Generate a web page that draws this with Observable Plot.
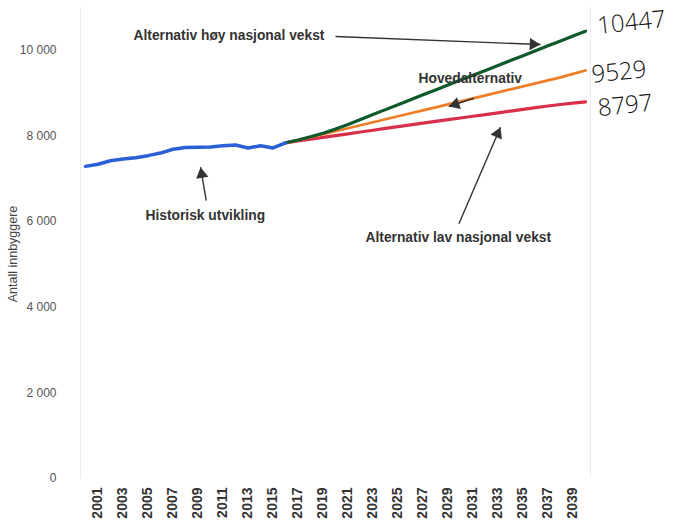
<!DOCTYPE html>
<html><head><meta charset="utf-8">
<script src="https://cdn.jsdelivr.net/npm/d3@7"></script>
<script src="https://cdn.jsdelivr.net/npm/@observablehq/plot@0.6"></script>
<style>body{margin:0;background:#fff}</style>
</head><body><div id="chart"></div>
<script>
// Historical population
const histYears = [2000,2001,2002,2003,2004,2005,2006,2007,2008,2009,2010,2011,2012,2013,2014,2015,2016];
const historisk = [7290,7340,7420,7460,7490,7540,7600,7690,7730,7735,7740,7770,7790,7720,7770,7720,7840];

// Projections
const projYears = [2016,2017,2018,2019,2020,2021,2022,2023,2024,2025,2026,2027,2028,2029,2030,2031,2032,2033,2034,2035,2036,2037,2038,2039,2040];
const hoy   = [7840,7905,7980,8065,8160,8270,8385,8500,8615,8730,8845,8960,9075,9190,9305,9420,9530,9645,9760,9875,9990,10105,10220,10335,10447];
const hoved = [7840,7905,7970,8040,8110,8180,8250,8320,8390,8460,8530,8600,8670,8740,8810,8880,8950,9020,9090,9160,9230,9300,9370,9450,9529];
const lav   = [7840,7882,7924,7966,8008,8050,8092,8134,8176,8218,8260,8300,8340,8380,8420,8460,8500,8540,8580,8620,8660,8700,8735,8768,8797];

const xTicks = [2001,2003,2005,2007,2009,2011,2013,2015,2017,2019,2021,2023,2025,2027,2029,2031,2033,2035,2037,2039];
const yTicks = [0,2000,4000,6000,8000,10000];
const yLabel = "Antall innbyggere";

// Annotations (data space)
const labels = [
  {year: 2003.84, value: 10346, text: "Alternativ høy nasjonal vekst"},
  {year: 2026.64, value: 9341,  text: "Hovedalternativ"},
  {year: 2004.8,  value: 6142,  text: "Historisk utvikling"},
  {year: 2022.4,  value: 5628,  text: "Alternativ lav nasjonal vekst"}
];
const arrows = [
  {x1: 2020.0, y1: 10322, x2: 2036.4, y2: 10135},
  {x1: 2031.06, y1: 8881, x2: 2029.06, y2: 8688},
  {x1: 2009.66, y1: 6492, x2: 2009.2, y2: 7270},
  {x1: 2029.87, y1: 5948, x2: 2033.2, y2: 8204}
];
const handwritten = [
  {year: 2040.95, value: 10560, text: "10447"},
  {year: 2040.5,  value: 9420,  text: "9529"},
  {year: 2041.0,  value: 8640,  text: "8797"}
];

const xDomain = [1999.6, 2040.4];
const yDomain = [0, 11000];
const hist = histYears.map((d,i) => ({year: d, value: historisk[i]}));
const mk = arr => projYears.map((d,i) => ({year: d, value: arr[i]}));
const fmt = d => d3.format(",")(d).replace(/,/g, " ");

const base = {
  width: 679, height: 531,
  marginLeft: 80, marginRight: 89, marginTop: 7, marginBottom: 53,
  style: {fontFamily: "Liberation Sans, Arial, sans-serif", background: "#fff", overflow: "visible"},
  x: {domain: xDomain},
  y: {domain: yDomain}
};

// first pass: obtain the scales to orient the filled arrowheads
const probe = Plot.plot({...base, marks: [Plot.ruleX(xDomain)]});
const sx = probe.scale("x"), sy = probe.scale("y");
const R = 4.6;
const tipDist = 2 * Math.sqrt((R * R * Math.PI) / (Math.sqrt(3) * 3));
const heads = arrows.map(a => {
  const X1 = sx.apply(a.x1), Y1 = sy.apply(a.y1), X2 = sx.apply(a.x2), Y2 = sy.apply(a.y2);
  const dx = X2 - X1, dy = Y2 - Y1, L = Math.hypot(dx, dy);
  const ux = dx / L, uy = dy / L;
  return {
    x: sx.invert(X2 - ux * tipDist),
    y: sy.invert(Y2 - uy * tipDist),
    angle: Math.atan2(dx, -dy) * 180 / Math.PI
  };
});

const chart = Plot.plot({
  ...base,
  marks: [
    Plot.ruleX(xDomain, {stroke: "#ececec"}),
    Plot.axisY({ticks: yTicks, tickSize: 0, tickPadding: 24, tickFormat: fmt, fontSize: 12, fill: "#555", label: null}),
    Plot.text([yLabel], {frameAnchor: "left", textAnchor: "middle", text: d => d, rotate: -90, dx: -68, dy: 11,
      fontSize: 12.5, fill: "#444"}),
    Plot.axisX({ticks: xTicks, tickSize: 0, tickRotate: -90, tickPadding: 9, tickFormat: d => String(d),
      fontSize: 14, fontWeight: "bold", fill: "#333", label: null}),
    Plot.line(mk(lav),   {x: "year", y: "value", stroke: "#d8304a", strokeWidth: 3.2}),
    Plot.line(mk(hoved), {x: "year", y: "value", stroke: "#f07e28", strokeWidth: 2.8}),
    Plot.line(mk(hoy),   {x: "year", y: "value", stroke: "#0e5a2a", strokeWidth: 3.2}),
    Plot.line(hist,      {x: "year", y: "value", stroke: "#2b5fd6", strokeWidth: 3.5}),
    Plot.link(arrows, {x1: "x1", y1: "y1", x2: "x2", y2: "y2", stroke: "#333", strokeWidth: 1.4}),
    Plot.dot(heads, {x: "x", y: "y", rotate: "angle", symbol: "triangle", r: R, fill: "#333", stroke: "none"}),
    Plot.text(labels, {x: "year", y: "value", text: "text", textAnchor: "start", fontWeight: "bold", fontSize: 13.8,
      fill: "#333"}),
    Plot.text(handwritten, {x: "year", y: "value", text: "text", textAnchor: "start", fontSize: 24, fontWeight: 300,
      fontFamily: "Open Sans", fill: "#111", rotate: -6})
  ]
});
document.getElementById("chart").appendChild(chart);
</script>
</body></html>
